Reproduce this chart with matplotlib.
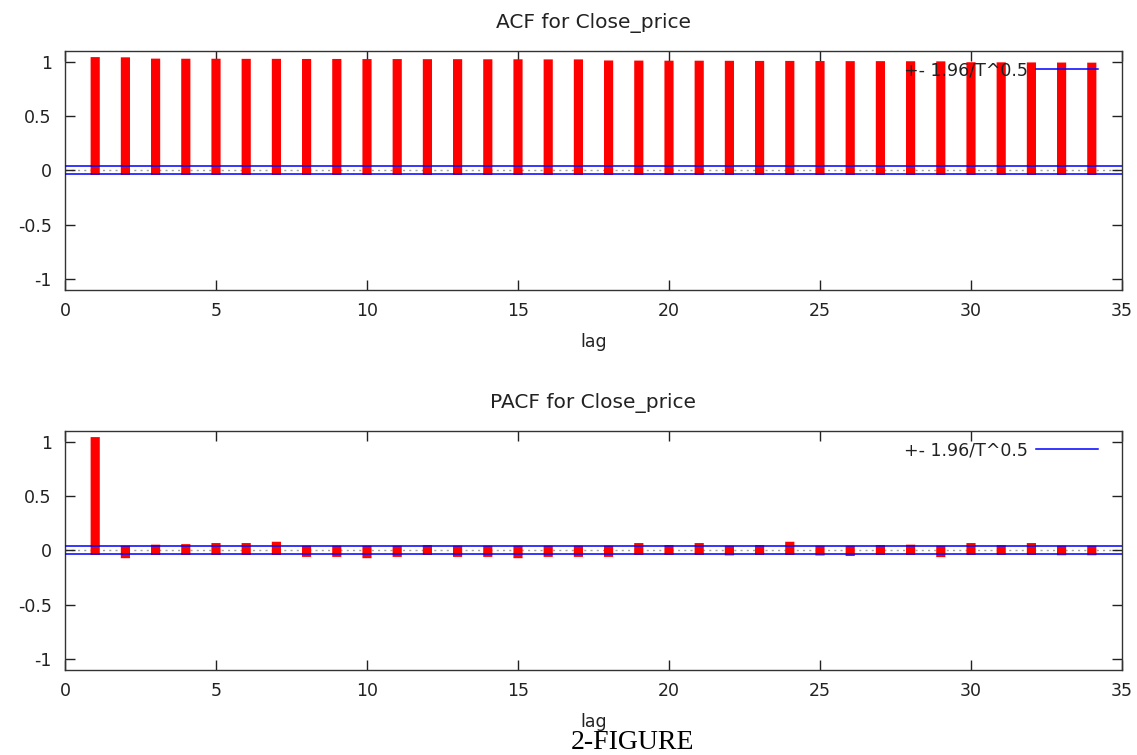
import matplotlib
matplotlib.use("Agg")
import matplotlib.pyplot as plt
import numpy as np

# ---- data ----
lags = list(range(1, 35))
acf_values = [0.999, 0.997, 0.985, 0.984, 0.984, 0.983, 0.983, 0.982, 0.982, 0.981,
              0.981, 0.980, 0.980, 0.979, 0.979, 0.978, 0.978, 0.968, 0.967, 0.966,
              0.966, 0.965, 0.964, 0.964, 0.963, 0.962, 0.962, 0.961, 0.960, 0.952,
              0.951, 0.950, 0.949, 0.948]
pacf_values = [0.999, -0.030, 0.010, 0.015, 0.025, 0.025, 0.037, -0.018, -0.018, -0.030,
               -0.018, 0.006, -0.018, -0.018, -0.030, -0.018, -0.018, -0.018, 0.025, 0.006,
               0.025, -0.004, 0.006, 0.037, -0.005, -0.010, 0.006, 0.010, -0.020, 0.025,
               0.005, 0.025, -0.003, -0.003]
conf_bound = 0.037
band_label = "+- 1.96/T^0.5"
titles = ["ACF for Close_price", "PACF for Close_price"]
xlabel = "lag"
x_ticks = [0, 5, 10, 15, 20, 25, 30, 35]
y_ticks = [-1, -0.5, 0, 0.5, 1]
y_ticklabels = ["-1", "-0.5", "0", "0.5", "1"]
caption = "2-FIGURE"

W, H = 1137, 755
fig = plt.figure(figsize=(W / 100, H / 100), dpi=100)
plt.rcParams['font.family'] = ['DejaVu Sans']

def px_rect(left, top, right, bottom):
    return [left / W, 1 - bottom / H, (right - left) / W, (bottom - top) / H]

ax1 = fig.add_axes(px_rect(65, 50.7, 1122, 290))
ax2 = fig.add_axes(px_rect(65, 430.7, 1122, 670))

FS = 12.5
for ax, vals, title in [(ax1, acf_values, titles[0]), (ax2, pacf_values, titles[1])]:
    ax.set_xlim(0, 35)
    ax.set_ylim(-1.1, 1.1)
    # zero axis (dotted gray)
    ax.axhline(0, color='#a0a0a0', lw=1.0, ls=(0, (1.5, 3)), zorder=1)
    # bars as thick impulses
    lc = ax.vlines(lags, 0, vals, colors='#ff0000', linewidth=6.6, zorder=2)
    lc.set_capstyle('projecting')
    lc.set_snap(False)
    # confidence bounds
    ax.axhline(conf_bound, color='#0000ff', lw=1.1, zorder=3, label=band_label)
    ax.axhline(-conf_bound, color='#0000ff', lw=1.1, zorder=3)
    ax.set_xticks(x_ticks)
    ax.set_xticklabels([str(t) for t in x_ticks])
    ax.set_yticks(y_ticks)
    ax.set_yticklabels(y_ticklabels)
    ax.tick_params(axis='both', direction='in', length=7.2, width=1.0, color='#222222',
                   labelsize=FS, labelcolor='#222222', top=True, right=True)
    ax.tick_params(axis='y', pad=9.5)
    ax.tick_params(axis='x', pad=9)
    for s in ax.spines.values():
        s.set_color('#333333')
        s.set_linewidth(1.0)
    ax.set_title(title, fontsize=14.5, color='#222222', pad=16)
    ax.set_xlabel(xlabel, fontsize=FS, color='#222222', labelpad=9)
    leg = ax.legend(loc='upper right', bbox_to_anchor=(0.977, 0.955), frameon=False,
                    markerfirst=False, fontsize=FS, handlelength=62 / (FS * 1.389),
                    handletextpad=0.45, borderaxespad=0, borderpad=0)
    for t in leg.get_texts():
        t.set_color('#222222')

fig.text(632 / W, 1 - 730 / H, caption, family='Liberation Serif', fontsize=20,
         ha='center', va='top', color='black')

fig.savefig('out.png', dpi=100, facecolor='white')
